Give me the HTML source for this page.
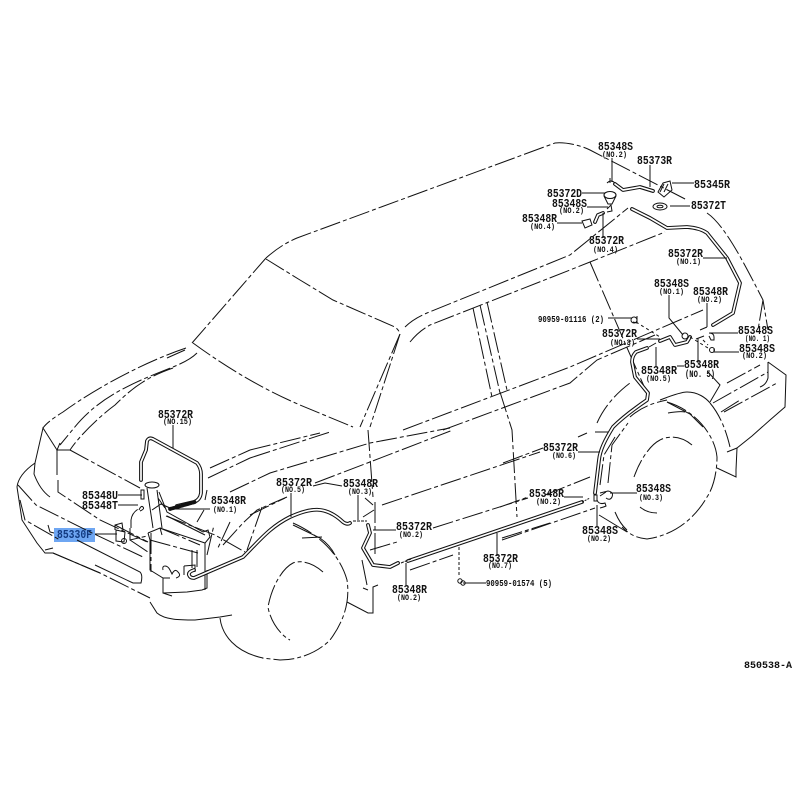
<!DOCTYPE html>
<html><head><meta charset="utf-8"><style>
html,body{margin:0;padding:0;background:#fff}
svg{display:block}
path,line,ellipse,circle,rect.s{fill:none;stroke:#111;stroke-width:1}
.d{stroke-dasharray:21 3 4 3}
.l{stroke-width:1.1}
.hb{stroke-width:3.8;stroke-linejoin:round;stroke-linecap:round}
.hw{stroke:#fff;stroke-width:1.7;stroke-linejoin:round;stroke-linecap:round}
.f{fill:#222}
text{font-family:"Liberation Mono",monospace;font-weight:700;fill:#111;font-size:11.5px}
text.n{font-size:8.5px}
</style></head><body>
<svg width="800" height="800" viewBox="0 0 800 800" xmlns="http://www.w3.org/2000/svg">
<rect width="800" height="800" fill="#fff"/>
<rect x="54" y="528" width="41" height="14" fill="#6ea6f2"/>
<g>
<path class="d" d="M266 258C275 250 285 243 297 238L555 143C565 142 580 145 590 150L687 200"/>
<path class="d" d="M707 213C725 225 745 265 763 300L768 330M763 300L758 330"/>
<path class="d" d="M192 343L266 258"/>
<path class="d" d="M266 259L300 280L333 300L395 327Q399 330 400 334L360 427"/>
<path class="d" d="M193 343C230 370 265 390 300 405L353 427"/>
<path class="d" d="M186 348C150 360 100 385 63 412C50 420 45 425 43 428"/>
<path class="d" d="M167 358L185 350M197 353C190 360 180 364 173 367C140 380 100 395 74 428L60 445"/>
<path class="d" d="M173 368C150 376 135 385 115 405C100 416 80 435 70 450"/>
<path class="d" d="M405 327C412 320 420 316 427 313L570 255L628 208"/>
<path class="d" d="M400 334L370 427M410 342C418 332 425 328 430 325L570 270L590 262L665 232"/>
<path class="d" d="M473 308L492 397M480 305L500 393M487 302L507 390"/>
<path class="d" d="M403 430L570 367L703 310"/>
<path class="d" d="M443 430L570 383L597 360L655 335"/>
<path class="d" d="M500 392L512 430L517 517"/>
<path class="d" d="M590 262L628 350"/>
<path class="d" d="M628 350L647 393"/>
<path class="d" d="M250 450L320 433M250 458L330 432M208 478L250 458M210 468L250 450"/>
<path class="d" d="M230 492L270 473L370 443L450 428"/>
<path class="d" d="M250 515L285 498M315 483L370 462L453 430M382 505L540 452"/>
<path class="d" d="M370 550L397 542M433 528L528 498M410 570L453 555M502 538L550 523M500 507L528 497M545 495L590 477"/>
<path class="d" d="M503 463L543 448M578 437L587 433M502 540L595 508"/>
<path class="d" d="M368 430L373 497M375 502L375 557M365 498L373 505M363 517L374 510"/>
<path class="d" d="M293 523C320 535 340 555 347 580C350 600 345 620 330 640C315 655 295 660 280 660L262 658"/>
<path class="d" d="M323 572C312 562 300 560 293 563C283 568 272 585 268 607C270 620 280 635 290 640"/>
<path d="M293 525L320 538Q330 545 335 555"/>
<path d="M302 538L322 537" class="d"/>
<path d="M667 402C695 410 715 435 717 457C717 475 712 490 707 497C695 518 675 535 647 539C635 538 628 533 622 527" class="d"/>
<path d="M692 445C680 435 667 436 660 440C650 445 640 460 634 477" class="d"/>
<path d="M640 507Q647 513 657 513"/>
<path d="M599 515L627 532M615 512Q620 524 627 530"/>
<path class="d" d="M597 423C605 405 618 392 630 383M595 432H608"/>
<path class="d" d="M600 485L604 455L615 437M608 483L612 445L628 423M630 417C640 408 652 403 667 400"/>
<path d="M660 400C668 397 680 392 687 392C698 392 706 398 710 403"/>
<path class="d" d="M710 403C720 415 726 430 730 447"/>
<path d="M667 402L690 414L703 427"/>
<path d="M668 413Q680 411 685 412"/>
<path d="M717 468L736 477V470L737 448L752 436L770 420L785 407L786 375L768 362"/>
<path class="d" d="M727 383L760 365M713 403L768 372"/>
<path d="M768 362V378Q766 385 760 387"/>
<path class="d" d="M721 412L740 400M724 412L777 383"/>
<path d="M708 372L720 385L710 402"/>
<path d="M727 452L737 448"/>
<path d="M17 487C18 478 25 470 35 463L43 428L57 450M35 463L34 474Q40 490 50 497"/>
<path d="M17 487L22 520L37 543L45 553L53 553L100 573M45 550L53 548"/>
<path d="M57 450V475M60 443L57 450H70"/>
<path class="d" d="M70 450L140 488M58 480V492L100 520L147 542"/>
<path class="d" d="M18 485L36 505L90 532L143 557M20 500L25 520L60 540"/>
<path d="M48 525L50 532L54 533M77 540L140 572Q143 575 141 583L133 583L95 565"/>
<path class="d" d="M53 553L100 573L150 598"/>
<path d="M150 602L157 613C165 620 180 620 195 620L220 617L232 615"/>
<path d="M220 618C222 635 235 652 263 658"/>
<path class="d" d="M115 525L148 542M130 540L148 552"/>
<path d="M148 533L160 528L205 543L205 560M148 533L150 540V570L163 578L170 578M160 528L162 535"/>
<path class="d" d="M150 540L198 553M151 533V572M160 528L200 545"/>
<path d="M147 488L153 528M157 490L162 528M152 510L161 504L170 508M158 498L165 508"/>
<ellipse cx="152" cy="485" rx="7" ry="3"/>
<path d="M159 492L167 512L203 532L208 530L210 537L205 543V590M167 516L205 535"/>
<path d="M197 550V567M192 550V568"/>
<path class="d" d="M166 516L215 535L245 552"/>
<path d="M163 570Q162 566 165 566T170 570L172 574Q175 568 178 572 182 576 176 578M184 566V575M184 566L195 565V572"/>
<path d="M163 578V593L187 592 202 590 207 588V570M163 593L172 596"/>
<path class="d" d="M207 555L214 525M223 545L243 523L257 510L287 497"/>
<path class="d" d="M230 522L217 550"/>
<path class="d" d="M207 490L205 500"/>
<path class="d" d="M262 507L247 550"/>
<path class="d" d="M131 528V520Q132 512 140 508" stroke-dasharray="3 2"/>
<path class="d" d="M130 528L130 540L147 536" stroke-dasharray="3 2"/>
<path d="M347 602L368 613H373V587L378 585M363 588L368 590"/>
<path d="M367 585L362 560"/>
</g>
<!-- hoses -->
<g>
<path class="hb" d="M141 480V462L146 450L147 441Q149 437 153 439L197 463Q201 468 201 474V493Q200 500 194 502L177 506"/>
<path class="hw" d="M141 480V462L146 450L147 441Q149 437 153 439L197 463Q201 468 201 474V493Q200 500 194 502L177 506"/>
<path class="hb" d="M170 509L195 502" stroke-dasharray="1.5 1.5"/>
<path class="hb" d="M194 570Q188 572 189 575T194 578L243 557C260 540 270 527 290 517C310 508 325 505 343 522Q347 525 350 523"/>
<path class="hw" d="M194 570Q188 572 189 575T194 578L243 557C260 540 270 527 290 517C310 508 325 505 343 522Q347 525 350 523"/>
<path class="hb" d="M368 525L370 533L363 548L373 565L390 567L398 563"/>
<path class="hw" d="M368 525L370 533L363 548L373 565L390 567L398 563"/>
<path class="hb" d="M408 561L582 502"/>
<path class="hw" d="M408 561L582 502"/>
<path class="hb" d="M647 348L636 352Q632 356 632 362L635 377L648 393L647 400Q625 415 613 427C605 440 600 450 599 460L595 493"/>
<path class="hw" d="M647 348L636 352Q632 356 632 362L635 377L648 393L647 400Q625 415 613 427C605 440 600 450 599 460L595 493"/>
<path class="hb" d="M632 209L650 218L667 228L687 227Q700 228 707 233L727 258L740 283L733 313L713 325"/>
<path class="hw" d="M632 209L650 218L667 228L687 227Q700 228 707 233L727 258L740 283L733 313L713 325"/>
<path class="hb" d="M615 184L623 190L640 187L653 191"/>
<path class="hw" d="M615 184L623 190L640 187L653 191"/>
<path class="hb" d="M660 341L670 337L675 345L687 342L690 337"/>
<path class="hw" d="M660 341L670 337L675 345L687 342L690 337"/>
<path class="hb" d="M595 222L598 215L603 213"/>
<path class="hw" d="M595 222L598 215L603 213"/>
</g>
<!-- parts -->
<g>
<ellipse cx="610" cy="195" rx="6" ry="3.5" class="l"/><path d="M604 196L608 204H612L616 196M610 183V178M607 183Q611 179 615 183"/>
<path d="M607 209L611 205L612 211L607 212"/>
<path d="M582 221L590 219L592 225L585 228Z" stroke-width="1.5"/>
<path d="M663 183L670 181L672 190L664 197L658 192Z"/>
<path d="M664 184L660 192M668 184L664 192"/>
<ellipse cx="660" cy="206.500" rx="7" ry="3.500" stroke-width="1.600"/>
<ellipse cx="660" cy="206.500" rx="3" ry="1.300"/>
<circle cx="634" cy="320" r="3"/>
<path d="M633 322L637 323V316"/>
<path d="M700 330L707 327"  stroke-width="3"/>
<path d="M649 347L656 343" stroke-width="3"/>
<path d="M696 339L704 336" stroke-width="3"/>
<circle cx="685" cy="336" r="3"/>
<path d="M709 333Q714 333 714 337V340L711 340L709 336"/>
<circle cx="712" cy="350" r="2.500"/>
<path d="M714 348L714 352"/>
<path d="M636 322L660 337M690 337L708 348M703 340L708 345" stroke-dasharray="3 3"/>
<path d="M115 530V525L122 523L123 530M116 530V541L124 542L125 532Z"/>
<circle cx="124" cy="541" r="2.500"/>
<rect class="s" x="141" y="490" width="3" height="9"/>
<path d="M139 510Q141 505 143 507T140 511"/>
<path d="M353 521H367" stroke-width="3" stroke-dasharray="3 1"/>
<path d="M401 563L411 559" stroke-width="3" stroke-dasharray="3 1"/>
<path d="M582 502L590 498" stroke-width="2.500" stroke-dasharray="2 1"/>
<rect class="s" x="594" y="495" width="3" height="6"/>
<path d="M600 493L608 491Q614 492 612 497Q610 501 606 498M606 492L600 496"/>
<path d="M597 500Q599 505 605 503L606 506Q604 507 600 508"/>
<circle cx="460" cy="581" r="2.200"/><circle cx="463" cy="583" r="2.200"/>
<path stroke-dasharray="3 2" d="M459 547V577"/>
</g>
<!-- leaders -->
<g>
<path d="M612 158V182M650 165V187M672 183H694M582 193H605M587 207H608M557 223H582M603 238V213M637 339H660"/>
<path d="M173 425V448M118 495H142M118 505H138M95 534H117"/>
<path d="M172 509H210M204 510L197 522"/>
<path d="M313 486L325 483L342 486M291 493V517M358 495V520M396 530H373M406 585V563"/>
<path d="M497 556V533M463 583H486M578 452H600M564 497H583M637 493H610M597 505V527"/>
<path d="M670 206H690M703 258H727M669 295V318L683 335M707 303V327M738 333H710M713 352H739M656 367V347"/>
<path d="M698 363V338M684 366H677M608 318H632"/>
</g>
<!-- labels -->
<text x="598" y="150" textLength="35" lengthAdjust="spacingAndGlyphs">85348S</text><text class="n" x="602" y="157" textLength="25" lengthAdjust="spacingAndGlyphs">(NO.2)</text>
<text x="637" y="164" textLength="35" lengthAdjust="spacingAndGlyphs">85373R</text>
<text x="694" y="188" textLength="36" lengthAdjust="spacingAndGlyphs">85345R</text>
<text x="547" y="197" textLength="35" lengthAdjust="spacingAndGlyphs">85372D</text>
<text x="552" y="207" textLength="35" lengthAdjust="spacingAndGlyphs">85348S</text><text class="n" x="559" y="213" textLength="25" lengthAdjust="spacingAndGlyphs">(NO.2)</text>
<text x="691" y="209" textLength="35" lengthAdjust="spacingAndGlyphs">85372T</text>
<text x="522" y="222" textLength="35" lengthAdjust="spacingAndGlyphs">85348R</text><text class="n" x="530" y="229" textLength="25" lengthAdjust="spacingAndGlyphs">(NO.4)</text>
<text x="589" y="244" textLength="35" lengthAdjust="spacingAndGlyphs">85372R</text><text class="n" x="593" y="252" textLength="25" lengthAdjust="spacingAndGlyphs">(NO.4)</text>
<text x="668" y="257" textLength="35" lengthAdjust="spacingAndGlyphs">85372R</text><text class="n" x="676" y="264" textLength="25" lengthAdjust="spacingAndGlyphs">(NO.1)</text>
<text x="654" y="287" textLength="35" lengthAdjust="spacingAndGlyphs">85348S</text><text class="n" x="659" y="294" textLength="25" lengthAdjust="spacingAndGlyphs">(NO.1)</text>
<text x="693" y="295" textLength="35" lengthAdjust="spacingAndGlyphs">85348R</text><text class="n" x="697" y="302" textLength="25" lengthAdjust="spacingAndGlyphs">(NO.2)</text>
<text x="538" y="322" textLength="66" lengthAdjust="spacingAndGlyphs" style="font-size:9.500px">90959-01116 (2)</text>
<text x="738" y="334" textLength="35" lengthAdjust="spacingAndGlyphs">85348S</text><text class="n" x="745" y="341" textLength="25" lengthAdjust="spacingAndGlyphs">(NO. 1)</text>
<text x="602" y="337" textLength="35" lengthAdjust="spacingAndGlyphs">85372R</text><text class="n" x="610" y="345" textLength="25" lengthAdjust="spacingAndGlyphs">(NO.3)</text>
<text x="739" y="352" textLength="36" lengthAdjust="spacingAndGlyphs">85348S</text><text class="n" x="742" y="358" textLength="25" lengthAdjust="spacingAndGlyphs">(NO.2)</text>
<text x="641" y="374" textLength="36" lengthAdjust="spacingAndGlyphs">85348R</text><text class="n" x="646" y="381" textLength="25" lengthAdjust="spacingAndGlyphs">(NO.5)</text>
<text x="684" y="368" textLength="35" lengthAdjust="spacingAndGlyphs">85348R</text><text x="685" y="377" textLength="30" lengthAdjust="spacingAndGlyphs" style="font-size:10px">(NO. 5)</text>
<text x="158" y="418" textLength="35" lengthAdjust="spacingAndGlyphs">85372R</text><text class="n" x="163" y="424" textLength="29" lengthAdjust="spacingAndGlyphs">(NO.15)</text>
<text x="82" y="499" textLength="36" lengthAdjust="spacingAndGlyphs">85348U</text>
<text x="82" y="509" textLength="36" lengthAdjust="spacingAndGlyphs">85348T</text>
<text x="211" y="504" textLength="35" lengthAdjust="spacingAndGlyphs">85348R</text><text class="n" x="213" y="512" textLength="24" lengthAdjust="spacingAndGlyphs">(NO.1)</text>
<text x="57" y="538" textLength="35" lengthAdjust="spacingAndGlyphs" style="fill:#123a80">85330F</text>
<text x="276" y="486" textLength="36" lengthAdjust="spacingAndGlyphs">85372R</text><text class="n" x="281" y="492" textLength="24" lengthAdjust="spacingAndGlyphs">(NO.5)</text>
<text x="343" y="487" textLength="35" lengthAdjust="spacingAndGlyphs">85348R</text><text class="n" x="348" y="494" textLength="24" lengthAdjust="spacingAndGlyphs">(NO.3)</text>
<text x="396" y="530" textLength="36" lengthAdjust="spacingAndGlyphs">85372R</text><text class="n" x="399" y="537" textLength="24" lengthAdjust="spacingAndGlyphs">(NO.2)</text>
<text x="483" y="562" textLength="35" lengthAdjust="spacingAndGlyphs">85372R</text><text class="n" x="488" y="568" textLength="24" lengthAdjust="spacingAndGlyphs">(NO.7)</text>
<text x="392" y="593" textLength="35" lengthAdjust="spacingAndGlyphs">85348R</text><text class="n" x="397" y="600" textLength="24" lengthAdjust="spacingAndGlyphs">(NO.2)</text>
<text x="486" y="586" textLength="66" lengthAdjust="spacingAndGlyphs" style="font-size:9.500px">90959-01574 (5)</text>
<text x="543" y="451" textLength="35" lengthAdjust="spacingAndGlyphs">85372R</text><text class="n" x="552" y="458" textLength="24" lengthAdjust="spacingAndGlyphs">(NO.6)</text>
<text x="529" y="497" textLength="35" lengthAdjust="spacingAndGlyphs">85348R</text><text class="n" x="536" y="504" textLength="25" lengthAdjust="spacingAndGlyphs">(NO.2)</text>
<text x="636" y="492" textLength="35" lengthAdjust="spacingAndGlyphs">85348S</text><text class="n" x="639" y="500" textLength="24" lengthAdjust="spacingAndGlyphs">(NO.3)</text>
<text x="582" y="534" textLength="36" lengthAdjust="spacingAndGlyphs">85348S</text><text class="n" x="587" y="541" textLength="24" lengthAdjust="spacingAndGlyphs">(NO.2)</text>
<text x="744" y="668" textLength="48" lengthAdjust="spacingAndGlyphs" style="font-size:10px">850538-A</text>
</svg>
</body></html>
